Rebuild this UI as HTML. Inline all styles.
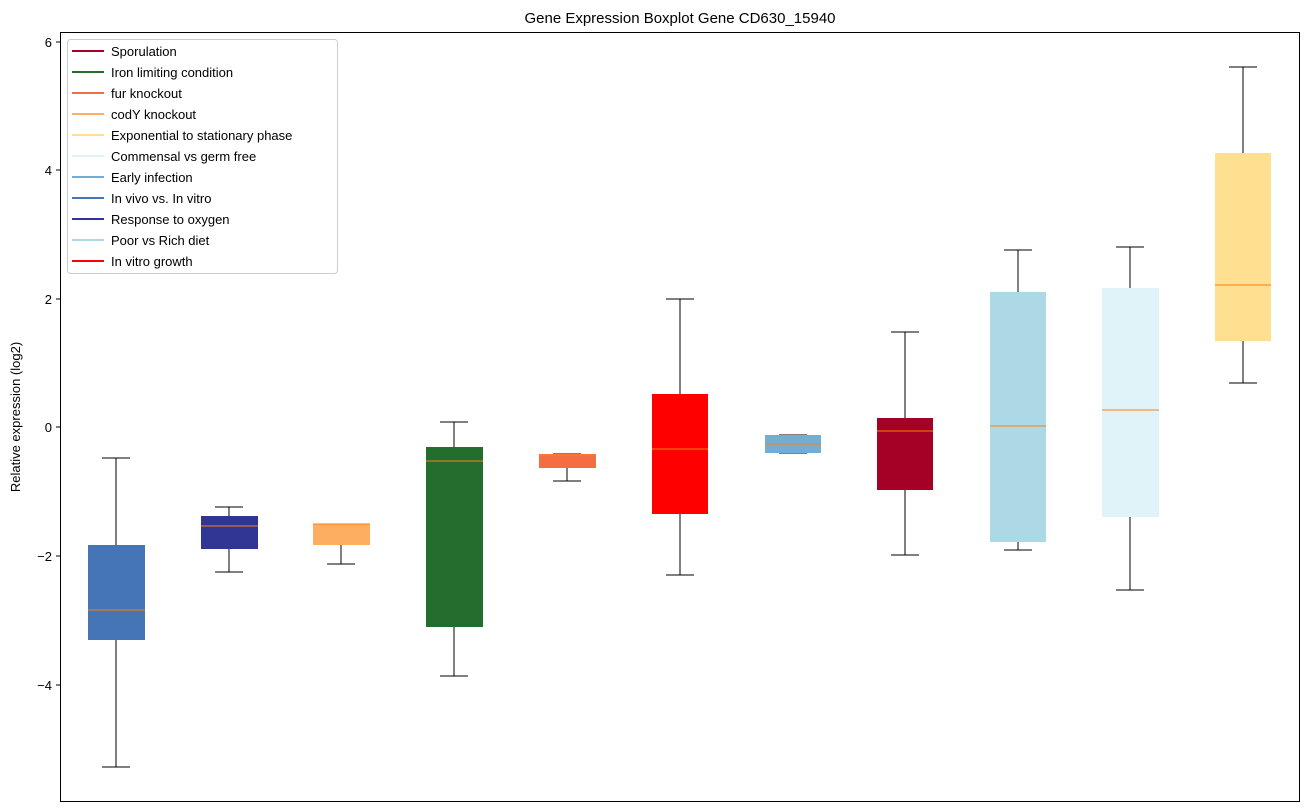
<!DOCTYPE html>
<html><head><style>body{margin:0;background:#fff}svg{display:block;font-family:"Liberation Sans","DejaVu Sans",sans-serif}line{shape-rendering:crispEdges}</style></head>
<body>
<svg width="1309" height="812" viewBox="0 0 1309 812">
<text x="680" y="23" font-size="15" text-anchor="middle">Gene Expression Boxplot Gene CD630_15940</text>
<g font-size="13" text-anchor="end">
<text x="52" y="47">6</text><text x="52" y="175">4</text><text x="52" y="304">2</text><text x="52" y="432">0</text><text x="52" y="561">−2</text><text x="52" y="690">−4</text>
</g>
<g stroke="#000"><line x1="56" x2="60" y1="42" y2="42"/><line x1="56" x2="60" y1="170" y2="170"/><line x1="56" x2="60" y1="299" y2="299"/><line x1="56" x2="60" y1="427" y2="427"/><line x1="56" x2="60" y1="556" y2="556"/><line x1="56" x2="60" y1="685" y2="685"/></g>
<text transform="translate(20,417) rotate(-90)" font-size="13" text-anchor="middle">Relative expression (log2)</text>
<g stroke="#000" stroke-width="1">
<line x1="116" x2="116" y1="458" y2="545"/><line x1="116" x2="116" y1="640" y2="767"/><line x1="102" x2="130" y1="458" y2="458"/><line x1="102" x2="130" y1="767" y2="767"/>
<line x1="229" x2="229" y1="507" y2="516"/><line x1="229" x2="229" y1="549" y2="572"/><line x1="215" x2="243" y1="507" y2="507"/><line x1="215" x2="243" y1="572" y2="572"/>
<line x1="341" x2="341" y1="545" y2="564"/><line x1="327" x2="355" y1="524" y2="524"/><line x1="327" x2="355" y1="564" y2="564"/>
<line x1="454" x2="454" y1="422" y2="447"/><line x1="454" x2="454" y1="627" y2="676"/><line x1="440" x2="468" y1="422" y2="422"/><line x1="440" x2="468" y1="676" y2="676"/>
<line x1="567" x2="567" y1="468" y2="481"/><line x1="553" x2="581" y1="454" y2="454"/><line x1="553" x2="581" y1="481" y2="481"/>
<line x1="680" x2="680" y1="299" y2="394"/><line x1="680" x2="680" y1="514" y2="575"/><line x1="666" x2="694" y1="299" y2="299"/><line x1="666" x2="694" y1="575" y2="575"/>
<line x1="779" x2="807" y1="435" y2="435"/><line x1="779" x2="807" y1="453" y2="453"/>
<line x1="905" x2="905" y1="332" y2="418"/><line x1="905" x2="905" y1="490" y2="555"/><line x1="891" x2="919" y1="332" y2="332"/><line x1="891" x2="919" y1="555" y2="555"/>
<line x1="1018" x2="1018" y1="250" y2="292"/><line x1="1018" x2="1018" y1="542" y2="550"/><line x1="1004" x2="1032" y1="250" y2="250"/><line x1="1004" x2="1032" y1="550" y2="550"/>
<line x1="1130" x2="1130" y1="247" y2="288"/><line x1="1130" x2="1130" y1="517" y2="590"/><line x1="1116" x2="1144" y1="247" y2="247"/><line x1="1116" x2="1144" y1="590" y2="590"/>
<line x1="1243" x2="1243" y1="67" y2="153"/><line x1="1243" x2="1243" y1="341" y2="383"/><line x1="1229" x2="1257" y1="67" y2="67"/><line x1="1229" x2="1257" y1="383" y2="383"/>
</g>
<g>
<rect x="88" y="545" width="57" height="95" fill="#4575b4"/>
<rect x="201" y="516" width="57" height="33" fill="#313695"/>
<rect x="313" y="524" width="57" height="21" fill="#fdae61"/>
<rect x="426" y="447" width="57" height="180" fill="#236e2e"/>
<rect x="539" y="454" width="57" height="14" fill="#f46d43"/>
<rect x="652" y="394" width="56" height="120" fill="#ff0000"/>
<rect x="765" y="435" width="56" height="18" fill="#74add1"/>
<rect x="877" y="418" width="56" height="72" fill="#a50026"/>
<rect x="990" y="292" width="56" height="250" fill="#add8e6"/>
<rect x="1102" y="288" width="57" height="229" fill="#e0f3f8"/>
<rect x="1215" y="153" width="56" height="188" fill="#fee090"/>
</g>
<g stroke="#ff7f0e" stroke-width="1">
<line x1="88" x2="145" y1="610" y2="610"/><line x1="201" x2="258" y1="526" y2="526"/><line x1="313" x2="370" y1="524" y2="524"/><line x1="426" x2="483" y1="461" y2="461"/><line x1="539" x2="596" y1="455" y2="455"/><line x1="652" x2="708" y1="449" y2="449"/><line x1="765" x2="821" y1="444" y2="444"/><line x1="877" x2="933" y1="431" y2="431"/><line x1="990" x2="1046" y1="426" y2="426"/><line x1="1102" x2="1159" y1="410" y2="410"/><line x1="1215" x2="1271" y1="285" y2="285"/>
</g>
<rect x="60.5" y="32.5" width="1239" height="769" fill="none" stroke="#000"/>
<rect x="67.5" y="39.5" width="270" height="234" rx="3" fill="#fff" fill-opacity="0.8" stroke="#ccc"/>
<g stroke-width="2">
<line x1="72" x2="104" y1="51" y2="51" stroke="#a50026"/>
<line x1="72" x2="104" y1="72" y2="72" stroke="#236e2e"/>
<line x1="72" x2="104" y1="93" y2="93" stroke="#f46d43"/>
<line x1="72" x2="104" y1="114" y2="114" stroke="#fdae61"/>
<line x1="72" x2="104" y1="135" y2="135" stroke="#fee090"/>
<line x1="72" x2="104" y1="156" y2="156" stroke="#e0f3f8"/>
<line x1="72" x2="104" y1="177" y2="177" stroke="#74add1"/>
<line x1="72" x2="104" y1="198" y2="198" stroke="#4575b4"/>
<line x1="72" x2="104" y1="219" y2="219" stroke="#313695"/>
<line x1="72" x2="104" y1="240" y2="240" stroke="#add8e6"/>
<line x1="72" x2="104" y1="261" y2="261" stroke="#ff0000"/>
</g>
<g font-size="13">
<text x="111" y="56">Sporulation</text>
<text x="111" y="77">Iron limiting condition</text>
<text x="111" y="98">fur knockout</text>
<text x="111" y="119">codY knockout</text>
<text x="111" y="140">Exponential to stationary phase</text>
<text x="111" y="161">Commensal vs germ free</text>
<text x="111" y="182">Early infection</text>
<text x="111" y="203">In vivo vs. In vitro</text>
<text x="111" y="224">Response to oxygen</text>
<text x="111" y="245">Poor vs Rich diet</text>
<text x="111" y="266">In vitro growth</text>
</g>
</svg>
</body></html>
